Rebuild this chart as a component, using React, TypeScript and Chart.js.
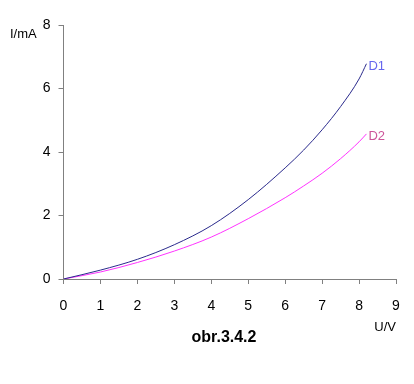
import React, { useEffect, useRef } from "react";
import { Chart, registerables } from "chart.js";

Chart.register(...registerables);

const voltages = [0, 1, 2, 3, 4, 5, 6, 6.5, 7, 7.5, 8, 8.2];
const currentD1 = [0, 0.28, 0.62, 1.08, 1.68, 2.5, 3.5, 4.06, 4.7, 5.43, 6.3, 6.78];
const currentD2 = [0, 0.22, 0.52, 0.88, 1.32, 1.9, 2.56, 2.93, 3.33, 3.79, 4.32, 4.57];
const seriesNames = ["D1", "D2"];
const xTitle = "U/V";
const yTitle = "I/mA";
const caption = "obr.3.4.2";

const FONT = "'Liberation Sans', Arial, sans-serif";

const labelPlugin = {
  id: "extraText",
  afterDraw(chart: any) {
    const ctx = chart.ctx;
    const area = chart.chartArea;
    ctx.save();
    ctx.font = `13px ${FONT}`;
    ctx.fillStyle = "#000";
    ctx.textBaseline = "alphabetic";
    ctx.textAlign = "left";
    ctx.fillText(yTitle, 10, 38);
    ctx.textAlign = "right";
    ctx.fillText(xTitle, area.right, 331);
    ctx.font = `bold 16px ${FONT}`;
    ctx.textAlign = "center";
    ctx.fillText(caption, 224, 342);
    const labelColors = ["#6666ee", "#cc5599"];
    ctx.font = `13px ${FONT}`;
    ctx.textAlign = "left";
    ctx.textBaseline = "middle";
    chart.data.datasets.forEach((ds: any, i: number) => {
      const meta = chart.getDatasetMeta(i);
      const last = meta.data[meta.data.length - 1];
      ctx.fillStyle = labelColors[i];
      ctx.fillText(seriesNames[i], last.x + 2, last.y + 3);
    });
    ctx.restore();
  },
};

export default function App() {
  const ref = useRef<HTMLCanvasElement>(null);
  useEffect(() => {
    const chart = new Chart(ref.current!, {
      type: "scatter",
      data: {
        datasets: [
          {
            label: seriesNames[0],
            data: voltages.map((x, i) => ({ x, y: currentD1[i] })),
            showLine: true,
            borderColor: "#2a2a8c",
            borderWidth: 1,
            pointRadius: 0,
            cubicInterpolationMode: "monotone",
          },
          {
            label: seriesNames[1],
            data: voltages.map((x, i) => ({ x, y: currentD2[i] })),
            showLine: true,
            borderColor: "#ff33ff",
            borderWidth: 1,
            pointRadius: 0,
            cubicInterpolationMode: "monotone",
          },
        ],
      },
      options: {
        animation: false,
        responsive: false,
        maintainAspectRatio: false,
        layout: { padding: { left: 0, right: 18, top: 25, bottom: 0 } },
        plugins: {
          legend: { display: false },
          tooltip: { enabled: false },
        },
        scales: {
          x: {
            type: "linear",
            min: 0,
            max: 9,
            ticks: {
              stepSize: 1,
              color: "#000",
              font: { family: FONT, size: 14 },
              padding: 14,
              maxRotation: 0,
            },
            grid: {
              drawOnChartArea: false,
              drawTicks: true,
              tickLength: 5,
              color: "#808080",
            },
            border: { color: "#808080", width: 1 },
            afterFit: (s: any) => {
              s.height = 105;
            },
          },
          y: {
            type: "linear",
            min: 0,
            max: 8,
            ticks: {
              stepSize: 2,
              color: "#000",
              font: { family: FONT, size: 14 },
              padding: 8,
            },
            grid: {
              drawOnChartArea: false,
              drawTicks: true,
              tickLength: 5,
              color: "#808080",
            },
            border: { color: "#808080", width: 1 },
            afterFit: (s: any) => {
              s.width = 63.5;
            },
          },
        },
      },
      plugins: [labelPlugin],
    });
    return () => chart.destroy();
  }, []);
  return (
    <div style={{ position: "fixed", left: 0, top: 0, width: 414, height: 384, background: "#fff" }}>
      <canvas ref={ref} width={414} height={384} style={{ width: 414, height: 384 }} />
    </div>
  );
}
